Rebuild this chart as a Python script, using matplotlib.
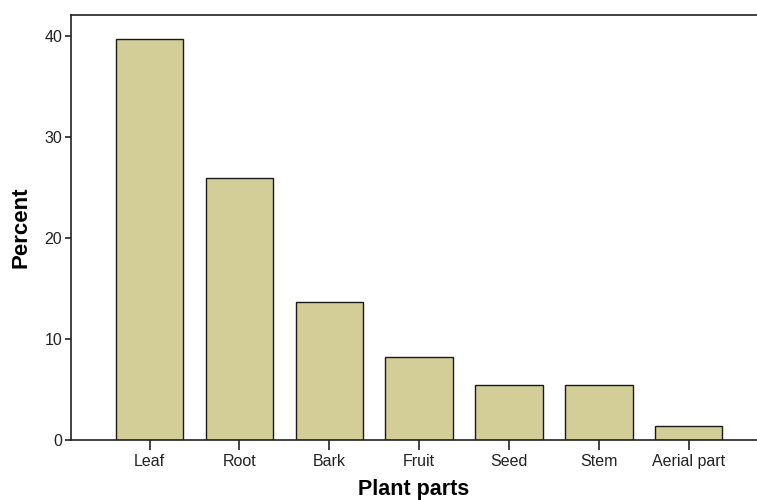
import numpy as np
import matplotlib
matplotlib.use("Agg")
from matplotlib import pyplot as plt

# plant part usage (percent of citations)
parts = ["Leaf", "Root", "Bark", "Fruit", "Seed", "Stem", "Aerial part"]
percent = [39.7, 26.0, 13.7, 8.2, 5.45, 5.45, 1.35]
yticks = [0, 10, 20, 30, 40]

plt.rcParams["font.family"] = ["Liberation Sans", "DejaVu Sans"]

fig = plt.figure(figsize=(7.57, 5.0), dpi=100)
ax = fig.add_axes([70.5 / 757, 0.12, 1 - 70.5 / 757, 0.85])

x = np.arange(len(parts))
ax.bar(x, percent, width=0.75, color="#D3CE98", edgecolor="#1a1a1a", linewidth=1.0, zorder=2)

ax.set_xlim(-0.88, 6.76)
ax.set_ylim(0, 42.1)
ax.set_xticks(x)
ax.set_xticklabels(parts)
ax.set_yticks(yticks)
ax.tick_params(axis="both", direction="out", length=4, width=1.2, labelsize=11.5, colors="#222222")
ax.tick_params(axis="y", pad=2)
ax.tick_params(axis="x", length=7, pad=3)

for s in ["left", "bottom", "top"]:
    ax.spines[s].set_linewidth(1.2)
    ax.spines[s].set_color("#222222")
ax.spines["right"].set_visible(False)

ax.set_xlabel("Plant parts", fontsize=15.5, fontweight="bold", labelpad=7)
ax.set_ylabel("Percent", fontsize=16, fontweight="bold", labelpad=9)

fig.savefig("out.png", dpi=100)
